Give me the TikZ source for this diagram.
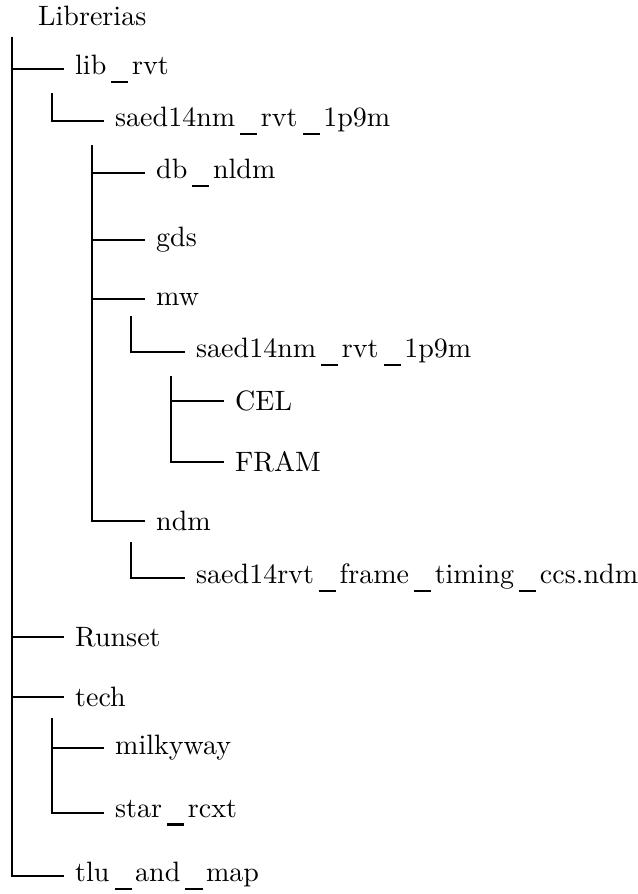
\documentclass[tikz,border=0pt]{standalone}
\newcommand{\us}{\kern1.8pt\rule[-2.9pt]{6.1pt}{0.8pt}\kern1.3pt}
\begin{document}
\begin{tikzpicture}[x=0.357pt,y=-0.357pt,
  item/.style={anchor=west, inner xsep=3.8pt, inner ysep=3.6pt, font=\normalsize},
  branch/.style={draw=black, line width=0.4pt}]
\useasboundingbox (0,0) rectangle (637,894);
% vertical line positions
\coordinate (v0) at (12,0);
\coordinate (v1) at (52,0);
\coordinate (v2) at (92,0);
\coordinate (v3) at (131,0);
\coordinate (v4) at (171,0);
% nodes
\node[item] (root) at (27,16) {Librerias};
\node[item] (lib) at (64,69) {lib\us rvt};
\node[item] (saedA) at (104,121) {saed14nm\us rvt\us 1p9m};
\node[item] (dbnldm) at (145,173) {db\us nldm};
\node[item] (gds) at (145,240) {gds};
\node[item] (mw) at (145,299) {mw};
\node[item] (saedB) at (185,352) {saed14nm\us rvt\us 1p9m};
\node[item] (cel) at (224,401) {CEL};
\node[item] (fram) at (224,462) {FRAM};
\node[item] (ndm) at (145,521) {ndm};
\node[item] (ccs) at (185,578) {saed14rvt\us frame\us timing\us ccs.ndm};
\node[item] (runset) at (64,637) {Runset};
\node[item] (tech) at (64,697) {tech};
\node[item] (milky) at (104,748) {milkyway};
\node[item] (star) at (104,813) {star\us rcxt};
\node[item] (tlu) at (64,876) {tlu\us and\us map};
% connectors
\foreach \c in {lib,runset,tech,tlu} \draw[branch] (root.south -| v0) |- (\c.west);
\draw[branch] (lib.south -| v1) |- (saedA.west);
\foreach \c in {dbnldm,gds,mw,ndm} \draw[branch] (saedA.south -| v2) |- (\c.west);
\draw[branch] (mw.south -| v3) |- (saedB.west);
\foreach \c in {cel,fram} \draw[branch] (saedB.south -| v4) |- (\c.west);
\draw[branch] (ndm.south -| v3) |- (ccs.west);
\foreach \c in {milky,star} \draw[branch] (tech.south -| v1) |- (\c.west);
\end{tikzpicture}
\end{document}
